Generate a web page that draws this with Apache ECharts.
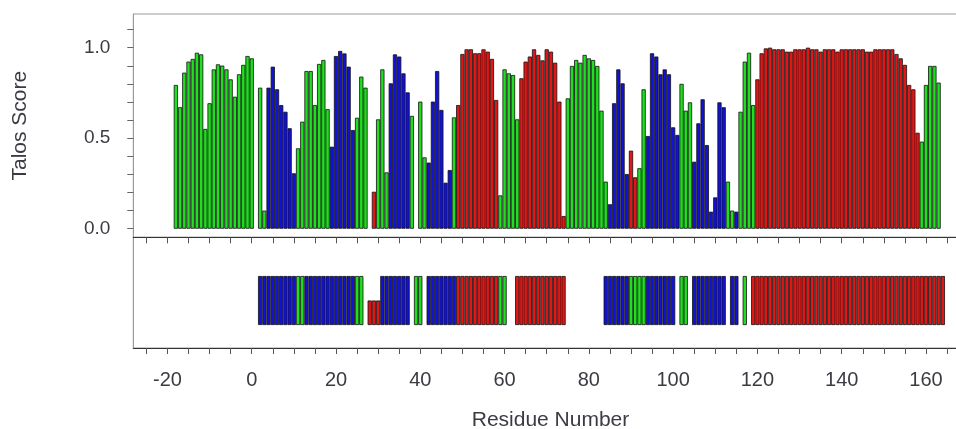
<!DOCTYPE html>
<html lang="en">
<head>
  <meta charset="utf-8" />
  <title>Talos Score</title>
  <script src="https://cdn.jsdelivr.net/npm/echarts@6/dist/echarts.min.js"></script>
  <style>
    * {
      margin: 0;
      padding: 0;
    }
    body {
      background: #fff;
    }
    #main {
      width: 956px;
      height: 429px;
    }
  </style>
</head>
<body>
  <div id="main"></div>
  <script>
    // top panel: one score per residue, starting at residue -18 (null = no bar)
    const firstResidue = -18;
    const talosScores = [
      0.794, 0.671, 0.862, 0.923, 0.938, 0.972, 0.963, 0.551, 0.693, 0.880,
      0.908, 0.901, 0.880, 0.825, 0.729, 0.853, 0.905, 0.954, 0.941, null,
      0.779, 0.10, 0.779, 0.895, 0.770, 0.683, 0.646, 0.555, 0.306, 0.444,
      0.591, 0.871, 0.871, 0.683, 0.910, 0.932, 0.660, 0.453, 0.954, 0.982,
      0.968, 0.895, 0.545, 0.613, 0.840, 0.779, null, 0.204, 0.604, 0.880,
      0.311, 0.803, 0.963, 0.951, 0.858, 0.753, 0.623, null, 0.702, 0.394,
      0.365, 0.702, 0.871, 0.656, 0.254, 0.324, 0.615, 0.683, 0.965, 0.991,
      0.991, 0.969, 0.969, 0.991, 0.978, 0.938, 0.711, 0.184, 0.880, 0.858,
      0.849, 0.604, 0.831, 0.923, 0.951, 0.991, 0.960, 0.930, 0.991, 0.978,
      0.917, 0.702, 0.070, 0.720, 0.899, 0.932, 0.917, 0.960, 0.941, 0.932,
      0.899, 0.652, 0.260, 0.135, 0.693, 0.880, 0.803, 0.302, 0.431, 0.284,
      0.334, 0.770, 0.512, 0.969, 0.951, 0.853, 0.880, 0.853, 0.560, 0.518,
      0.800, 0.652, 0.698, 0.370, 0.582, 0.715, 0.462, 0.094, 0.173, 0.698,
      0.671, 0.260, 0.100, 0.094, 0.646, 0.923, 0.972, 0.683, 0.825, 0.969,
      0.996, 1.000, 0.991, 0.991, 0.991, 0.978, 0.978, 0.991, 0.991, 0.991,
      1.000, 0.991, 0.991, 0.978, 0.991, 0.991, 0.991, 0.978, 0.991, 0.991,
      0.991, 0.991, 0.991, 0.991, 0.978, 0.978, 0.991, 0.991, 0.991, 0.991,
      0.991, 0.965, 0.941, 0.905, 0.794, 0.770, 0.530, 0.481, 0.794, 0.899,
      0.899, 0.807
    ];
    // class of each top bar: G green, B blue, R red, - none
    const talosClass =
      "GGGGGGGGGGGGGGGGGGG" + "-" + "GG" + "BBBBBBB" + "GGGGGGGG" + "BBBBBB" +
      "GGG" + "-" + "R" + "GGG" + "BBBBB" + "G" + "-" + "GG" + "BBBBBB" + "G" +
      "RRRRRRRRRR" + "GGGGG" + "RRRRRRRRRRR" + "GGGGGGGGGG" + "BBBBB" + "RR" +
      "GG" + "BBBBBBBB" + "GGG" + "BBBBBBBB" + "GG" + "B" + "GGGG" +
      "RRRRRRRRRRRRRRRRRRRRRRRRRRRRRRRRRRRRRRR" + "GGGGG";

    // bottom panel: class per residue starting at residue 2 (r = short red, - = none)
    const secondFirstResidue = 2;
    const secondClass =
      "BBBBBBBBB" + "GG" + "BBBBBBBBBBBB" + "GG" + "-" + "rrr" + "BBBBBBB" + "-" +
      "GG" + "-" + "BBBBBBB" + "RRRRRRRRRR" + "GG" + "--" + "RRRRRRRRRRRR" +
      "---------" + "BBBBBB" + "GGGG" + "BBBBBBB" + "-" + "GG" + "-" + "BBBBBBBB" +
      "-" + "BB" + "-" + "G" + "-" +
      "RRRRRRRRRRRRRRRRRRRRRRRRRRRRRRRRRRRRRRRRRRRRRR";

    const xTickValues = [
      -25, -20, -15, -10, -5, 0, 5, 10, 15, 20, 25, 30, 35, 40, 45, 50, 55, 60,
      65, 70, 75, 80, 85, 90, 95, 100, 105, 110, 115, 120, 125, 130, 135, 140,
      145, 150, 155, 160, 165, 170
    ];
    const xLabelValues = [-20, 0, 20, 40, 60, 80, 100, 120, 140, 160];
    const yTickValues = [0, 0.1, 0.2, 0.3, 0.4, 0.5, 0.6, 0.7, 0.8, 0.9, 1.0, 1.1];
    const yLabelValues = [0, 0.5, 1.0];

    const classColors = { G: "#1fe01f", B: "#1212d4", R: "#e31616", r: "#e31616" };
    const fontFamily = "'Liberation Sans', Arial, sans-serif";
    const narrowFont = "'Liberation Sans Narrow', 'Arial Narrow', 'Liberation Sans', sans-serif";
    const textColor = "#3b3b44";

    const topData = [];
    talosScores.forEach(function (v, i) {
      const c = talosClass[i];
      if (v === null || c === "-") return;
      topData.push({ value: [firstResidue + i, v], itemStyle: { color: classColors[c] } });
    });

    const bottomData = [];
    for (let i = 0; i < secondClass.length; i++) {
      const c = secondClass[i];
      if (c === "-") continue;
      bottomData.push({
        value: [secondFirstResidue + i, c === "r" ? 0.5 : 1],
        itemStyle: { color: classColors[c] }
      });
    }

    const chart = echarts.init(document.getElementById("main"), null, { renderer: "canvas" });

    // the plot runs past the right edge of the picture, so keep the grid from shrinking
    const gridBase = {
      left: 133.3,
      width: 834.4,
      show: true,
      borderColor: "#9a9a9a",
      borderWidth: 1,
      outerBoundsMode: "none",
      containLabel: false
    };
    const barStyle = { borderColor: "#111", borderWidth: 0.8 };

    const option = {
      animation: false,
      backgroundColor: "#fff",
      grid: [
        Object.assign({ top: 14, height: 223.3 }, gridBase),
        Object.assign({ top: 237.3, height: 110.7 }, gridBase)
      ],
      xAxis: [
        {
          gridIndex: 0,
          type: "value",
          min: -28.1,
          max: 169.9,
          axisLine: { onZero: false, lineStyle: { color: "#333", width: 1.2 } },
          axisTick: { customValues: xTickValues, length: 6, lineStyle: { color: "#555" } },
          axisLabel: { show: false },
          splitLine: { show: false }
        },
        {
          gridIndex: 1,
          type: "value",
          min: -28.1,
          max: 169.9,
          axisLine: { onZero: false, lineStyle: { color: "#333", width: 1.2 } },
          axisTick: { customValues: xTickValues, length: 6, lineStyle: { color: "#555" } },
          axisLabel: {
            customValues: xLabelValues,
            fontSize: 20,
            margin: 22,
            color: textColor,
            fontFamily: narrowFont
          },
          splitLine: { show: false },
          name: "Residue Number",
          nameLocation: "middle",
          nameGap: 62,
          nameTextStyle: { fontSize: 21, color: textColor, fontFamily: fontFamily }
        }
      ],
      yAxis: [
        {
          gridIndex: 0,
          type: "value",
          min: -0.0475,
          max: 1.186,
          axisLine: { show: true, onZero: false, lineStyle: { color: "#9a9a9a" } },
          axisTick: { show: true, customValues: yTickValues, length: 6, lineStyle: { color: "#666" } },
          axisLabel: {
            customValues: yLabelValues,
            formatter: function (v) {
              return v.toFixed(1);
            },
            fontSize: 19,
            margin: 23,
            color: textColor,
            fontFamily: fontFamily
          },
          splitLine: { show: false },
          name: "Talos Score",
          nameLocation: "middle",
          nameGap: 103,
          nameTextStyle: { fontSize: 21, color: textColor, fontFamily: fontFamily }
        },
        {
          gridIndex: 1,
          type: "value",
          min: -0.469,
          max: 1.79,
          axisLine: { show: true, onZero: false, lineStyle: { color: "#9a9a9a" } },
          axisTick: { show: false },
          axisLabel: { show: false },
          splitLine: { show: false }
        }
      ],
      series: [
        {
          type: "bar",
          xAxisIndex: 0,
          yAxisIndex: 0,
          barWidth: 4.2,
          itemStyle: barStyle,
          data: topData
        },
        {
          type: "bar",
          xAxisIndex: 1,
          yAxisIndex: 1,
          barWidth: 4.2,
          itemStyle: barStyle,
          data: bottomData
        }
      ]
    };

    chart.setOption(option);
  </script>
</body>
</html>
